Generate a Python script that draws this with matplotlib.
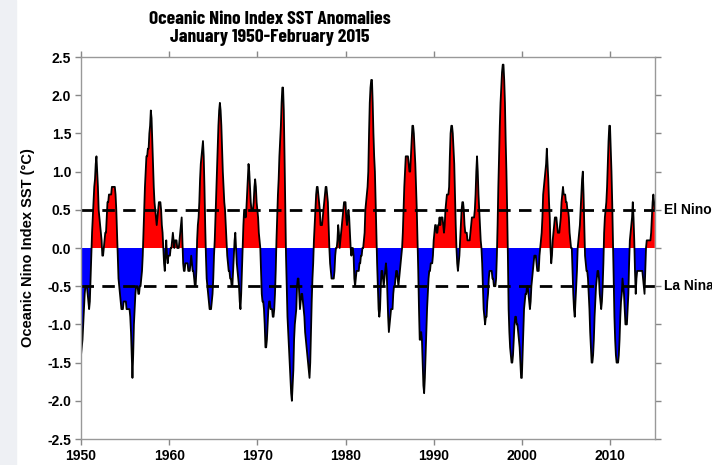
import matplotlib
matplotlib.use("Agg")
import matplotlib.pyplot as plt
import matplotlib.patches as mpatches
import numpy as np

# ONI 3-month running mean values, monthly, Jan 1950 - Feb 2015
oni_1950s = [-1.4, -1.3, -1.2, -1.0, -0.8, -0.6, -0.5, -0.5, -0.5, -0.6, -0.7, -0.8,
             -0.7, -0.4, -0.1, 0.2, 0.4, 0.6, 0.8, 0.9, 1.1, 1.2, 1.0, 0.8,
             0.5, 0.4, 0.3, 0.2, 0.1, -0.1, -0.1, 0.0, 0.1, 0.2, 0.2, 0.4,
             0.6, 0.6, 0.7, 0.7, 0.7, 0.7, 0.8, 0.8, 0.8, 0.8, 0.8, 0.7,
             0.5, 0.2, -0.1, -0.4, -0.5, -0.6, -0.7, -0.8, -0.8, -0.8, -0.7, -0.7,
             -0.7, -0.7, -0.8, -0.8, -0.8, -0.8, -0.8, -0.9, -1.1, -1.4, -1.7, -1.4,
             -1.0, -0.8, -0.6, -0.5, -0.5, -0.5, -0.6, -0.6, -0.5, -0.5, -0.4, -0.3,
             -0.1, 0.2, 0.5, 0.8, 1.0, 1.2, 1.2, 1.3, 1.3, 1.5, 1.6, 1.8,
             1.7, 1.4, 1.1, 0.8, 0.6, 0.5, 0.4, 0.3, 0.4, 0.5, 0.6, 0.6,
             0.6, 0.5, 0.3, 0.2, 0.0, -0.2, -0.3, -0.1, 0.1, -0.1, -0.2, -0.1]
oni_1960s = [-0.1, -0.1, 0.0, 0.0, 0.1, 0.2, 0.1, 0.0, 0.1, 0.1, 0.1, 0.0,
             0.0, 0.0, 0.1, 0.2, 0.3, 0.4, 0.1, -0.2, -0.3, -0.3, -0.2, -0.2,
             -0.2, -0.2, -0.3, -0.3, -0.3, -0.2, -0.1, -0.2, -0.3, -0.3, -0.4, -0.5,
             -0.5, -0.3, 0.1, 0.3, 0.4, 0.6, 0.9, 1.1, 1.2, 1.3, 1.4, 1.2,
             0.8, 0.3, -0.1, -0.4, -0.5, -0.6, -0.7, -0.8, -0.8, -0.8, -0.7, -0.6,
             -0.4, -0.1, 0.1, 0.4, 0.7, 1.0, 1.3, 1.6, 1.8, 1.9, 1.8, 1.6,
             1.3, 1.0, 0.8, 0.6, 0.5, 0.3, 0.1, -0.1, -0.2, -0.3, -0.3, -0.4,
             -0.4, -0.5, -0.5, -0.3, -0.1, 0.1, 0.2, 0.0, -0.2, -0.3, -0.4, -0.5,
             -0.7, -0.8, -0.6, -0.3, 0.0, 0.3, 0.5, 0.5, 0.4, 0.5, 0.7, 0.9,
             1.1, 1.0, 0.8, 0.6, 0.5, 0.5, 0.5, 0.6, 0.8, 0.9, 0.8, 0.6]
oni_1970s = [0.5, 0.4, 0.2, 0.1, 0.0, -0.3, -0.6, -0.7, -0.7, -0.8, -1.0, -1.3,
             -1.3, -1.2, -1.0, -0.8, -0.7, -0.7, -0.8, -0.8, -0.8, -0.9, -0.9, -0.8,
             -0.6, -0.3, 0.1, 0.4, 0.7, 0.9, 1.2, 1.4, 1.6, 1.9, 2.1, 2.1,
             1.8, 1.2, 0.5, -0.1, -0.5, -0.9, -1.1, -1.3, -1.5, -1.7, -1.9, -2.0,
             -1.8, -1.6, -1.2, -1.0, -0.9, -0.8, -0.5, -0.4, -0.4, -0.6, -0.8, -0.7,
             -0.6, -0.6, -0.7, -0.8, -0.9, -1.1, -1.2, -1.3, -1.4, -1.5, -1.6, -1.7,
             -1.5, -1.1, -0.7, -0.4, -0.2, 0.1, 0.3, 0.5, 0.7, 0.8, 0.8, 0.7,
             0.6, 0.5, 0.3, 0.3, 0.3, 0.4, 0.5, 0.6, 0.7, 0.8, 0.8, 0.7,
             0.6, 0.3, 0.0, -0.2, -0.3, -0.4, -0.4, -0.4, -0.4, -0.3, -0.1, 0.0,
             0.0, 0.1, 0.3, 0.2, 0.0, 0.1, 0.2, 0.3, 0.4, 0.5, 0.6, 0.6]
oni_1980s = [0.6, 0.4, 0.3, 0.4, 0.5, 0.4, 0.2, 0.0, -0.1, 0.0, 0.0, -0.1,
             -0.4, -0.5, -0.4, -0.3, -0.3, -0.3, -0.3, -0.2, -0.2, -0.1, -0.1, 0.0,
             0.0, 0.1, 0.2, 0.5, 0.6, 0.7, 0.8, 1.0, 1.5, 1.9, 2.1, 2.2,
             2.2, 1.9, 1.5, 1.2, 1.0, 0.6, 0.2, -0.2, -0.5, -0.8, -0.9, -0.8,
             -0.5, -0.3, -0.3, -0.4, -0.5, -0.4, -0.3, -0.2, -0.3, -0.6, -0.9, -1.1,
             -1.0, -0.9, -0.8, -0.8, -0.8, -0.6, -0.5, -0.5, -0.4, -0.3, -0.3, -0.4,
             -0.5, -0.4, -0.3, -0.2, -0.1, 0.0, 0.2, 0.5, 0.8, 1.0, 1.2, 1.2,
             1.2, 1.2, 1.1, 1.0, 1.0, 1.2, 1.4, 1.6, 1.6, 1.5, 1.3, 1.1,
             0.8, 0.5, 0.1, -0.3, -0.8, -1.2, -1.2, -1.1, -1.2, -1.5, -1.8, -1.9,
             -1.7, -1.4, -1.1, -0.8, -0.6, -0.4, -0.3, -0.3, -0.2, -0.2, -0.2, -0.1]
oni_1990s = [0.1, 0.2, 0.3, 0.3, 0.2, 0.2, 0.3, 0.3, 0.4, 0.3, 0.4, 0.4,
             0.4, 0.3, 0.2, 0.3, 0.5, 0.6, 0.7, 0.7, 0.7, 0.8, 1.2, 1.5,
             1.6, 1.6, 1.5, 1.3, 1.1, 0.7, 0.3, 0.0, -0.2, -0.3, -0.2, -0.1,
             0.1, 0.3, 0.5, 0.6, 0.6, 0.5, 0.3, 0.2, 0.2, 0.2, 0.1, 0.1,
             0.1, 0.1, 0.2, 0.3, 0.4, 0.4, 0.4, 0.4, 0.5, 0.7, 1.0, 1.2,
             1.0, 0.7, 0.5, 0.3, 0.1, 0.0, -0.2, -0.5, -0.8, -0.9, -1.0, -0.9,
             -0.9, -0.7, -0.6, -0.4, -0.3, -0.3, -0.3, -0.3, -0.4, -0.4, -0.5, -0.5,
             -0.5, -0.4, -0.1, 0.3, 0.8, 1.2, 1.6, 1.9, 2.1, 2.3, 2.4, 2.4,
             2.2, 1.9, 1.4, 1.0, 0.5, -0.1, -0.8, -1.1, -1.3, -1.4, -1.5, -1.5,
             -1.4, -1.2, -1.0, -0.9, -0.9, -1.0, -1.0, -1.1, -1.2, -1.3, -1.5, -1.7]
oni_2000s = [-1.7, -1.4, -1.1, -0.8, -0.7, -0.6, -0.6, -0.5, -0.5, -0.6, -0.7, -0.8,
             -0.7, -0.5, -0.4, -0.3, -0.2, -0.1, -0.1, -0.1, -0.2, -0.3, -0.3, -0.3,
             -0.1, 0.0, 0.1, 0.2, 0.4, 0.7, 0.8, 0.9, 1.0, 1.1, 1.3, 1.1,
             0.9, 0.6, 0.4, 0.0, -0.2, -0.1, 0.1, 0.2, 0.3, 0.4, 0.4, 0.4,
             0.3, 0.2, 0.2, 0.2, 0.3, 0.4, 0.6, 0.7, 0.8, 0.7, 0.7, 0.7,
             0.6, 0.6, 0.5, 0.5, 0.4, 0.2, 0.1, 0.0, 0.0, -0.3, -0.6, -0.8,
             -0.9, -0.7, -0.5, -0.3, 0.0, 0.1, 0.2, 0.3, 0.5, 0.7, 0.9, 1.0,
             0.7, 0.3, -0.1, -0.2, -0.3, -0.3, -0.4, -0.6, -0.8, -1.1, -1.3, -1.5,
             -1.5, -1.4, -1.2, -0.9, -0.7, -0.5, -0.4, -0.3, -0.3, -0.4, -0.6, -0.7,
             -0.8, -0.7, -0.5, -0.2, 0.2, 0.4, 0.5, 0.6, 0.8, 1.1, 1.4, 1.6]
oni_2010s = [1.6, 1.3, 1.0, 0.6, 0.1, -0.4, -0.9, -1.2, -1.4, -1.5, -1.5, -1.5,
             -1.4, -1.2, -0.9, -0.7, -0.6, -0.4, -0.5, -0.6, -0.8, -1.0, -1.0, -1.0,
             -0.8, -0.6, -0.2, 0.1, 0.2, 0.3, 0.4, 0.6, 0.4, 0.1, -0.3, -0.6,
             -0.4, -0.3, -0.3, -0.3, -0.3, -0.3, -0.3, -0.3, -0.3, -0.4, -0.5, -0.6,
             -0.3, 0.0, 0.1, 0.1, 0.1, 0.1, 0.1, 0.1, 0.2, 0.4, 0.6, 0.7,
             0.6, 0.5]

title_lines = ["Oceanic Nino Index SST Anomalies", "January 1950-February 2015"]

oni = np.array(oni_1950s + oni_1960s + oni_1970s + oni_1980s + oni_1990s + oni_2000s + oni_2010s)
years = 1950 + np.arange(len(oni)) / 12.0

fig = plt.figure(figsize=(7.12, 4.65), dpi=100)
# light screenshot margin on the left
fig.patches.append(mpatches.Rectangle((0, 0), 0.022, 1, transform=fig.transFigure,
                                      color="#eef0f4", zorder=0))
ax = fig.add_axes([0.1138, 0.0559, 0.8061, 0.8215])

ax.fill_between(years, oni, 0, where=oni >= 0, interpolate=True, color="red", lw=0)
ax.fill_between(years, oni, 0, where=oni <= 0, interpolate=True, color="blue", lw=0)
ax.plot(years, oni, color="black", lw=1.3)

for lvl in (0.5, -0.5):
    ax.axhline(lvl, color="black", lw=2, dashes=(4.5, 3))

ax.set_xlim(1950, 2015.1)
ax.set_ylim(-2.5, 2.5)
ax.set_xticks(np.arange(1950, 2011, 10))
ax.set_yticks(np.arange(-2.5, 2.51, 0.5))
ax.set_yticklabels(["%.1f" % v for v in np.arange(-2.5, 2.51, 0.5)])
ax.tick_params(direction="out", length=4, width=1, color="#888888",
               top=True, right=True, labelsize=10, pad=3)
for lab in ax.get_xticklabels() + ax.get_yticklabels():
    lab.set_fontweight("bold")
    lab.set_fontfamily("Liberation Sans")
for sp in ax.spines.values():
    sp.set_color("#999999")
    sp.set_linewidth(1)

ax.set_ylabel("Oceanic Nino Index SST (\u00b0C)", fontsize=10.5, fontweight="bold",
              family="Liberation Sans")
ax.yaxis.set_label_coords(-0.080, 0.5)

ax.text(1.016, 0.6, "El Nino", transform=ax.transAxes, fontsize=10, fontweight="bold",
        family="Liberation Sans", va="center", ha="left")
ax.text(1.016, 0.4, "La Nina", transform=ax.transAxes, fontsize=10, fontweight="bold",
        family="Liberation Sans", va="center", ha="left")

# condensed bold title
title_font = dict(family=["Barlow Condensed", "DejaVu Sans"], stretch="condensed",
                  weight="bold", fontsize=14, ha="center", va="baseline")
fig.text(0.379, 1 - 24 / 465, title_lines[0], **title_font)
fig.text(0.379, 1 - 42 / 465, title_lines[1], **title_font)

fig.savefig("out.png", dpi=100)
